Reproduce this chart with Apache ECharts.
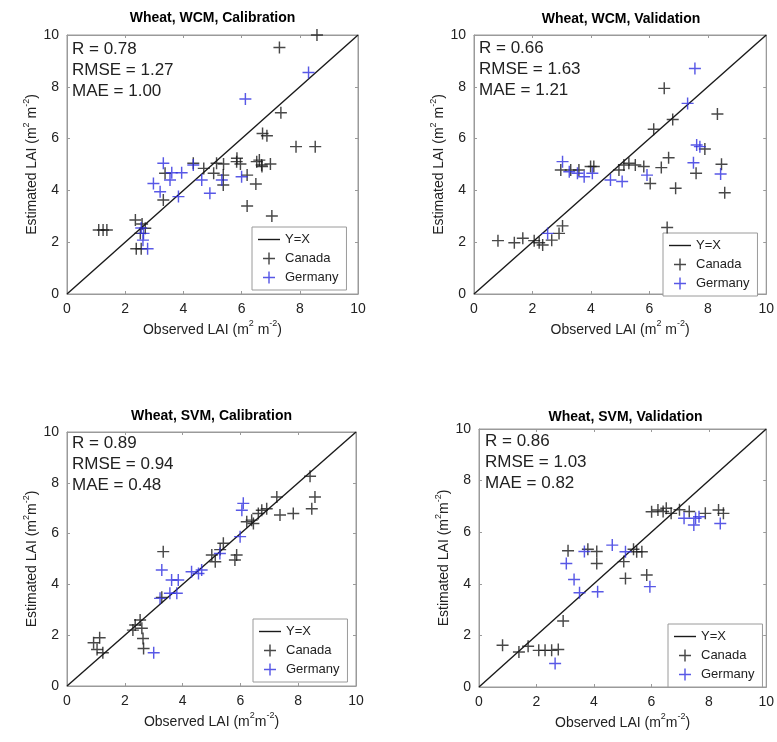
<!DOCTYPE html>
<html>
<head>
<meta charset="utf-8">
<script src="https://cdn.jsdelivr.net/npm/echarts@6/dist/echarts.min.js"></script>
<style>html,body{margin:0;padding:0;background:#fff}#c{width:777px;height:742px}</style>
</head>
<body>
<div id="c"></div>
<script>
// ---------- data ----------
const panelTitles = ['Wheat, WCM, Calibration', 'Wheat, WCM, Validation', 'Wheat, SVM, Calibration', 'Wheat, SVM, Validation'];
const statsR = ['0.78', '0.66', '0.89', '0.86'];
const statsRMSE = ['1.27', '1.63', '0.94', '1.03'];
const statsMAE = ['1.00', '1.21', '0.48', '0.82'];
const tickValues = [0, 2, 4, 6, 8, 10];
const seriesNames = ['Y=X', 'Canada', 'Germany'];
const identityLine = [[0, 0], [10, 10]];

const wcmCalCanada = [[8.59,10.0],[7.30,9.52],[7.35,7.0],[6.72,6.2],[6.87,6.11],[7.87,5.69],[8.53,5.69],[5.84,5.24],[6.61,5.17],[6.70,4.92],[6.99,5.02],[5.96,5.02],[6.19,4.59],[6.49,4.25],[6.19,3.40],[7.04,3.01],[5.38,5.02],[5.14,5.05],[5.04,4.66],[5.37,4.21],[5.37,4.59],[4.34,5.05],[4.70,4.85],[3.37,4.66],[3.31,3.63],[1.09,2.47],[1.24,2.47],[1.37,2.47],[2.35,2.86],[2.58,2.70],[2.69,2.54],[2.52,2.34],[2.38,1.75],[2.55,1.75],[6.52,5.11],[5.83,5.11],[6.69,4.98]];
const wcmCalGermany = [[8.30,8.55],[6.13,7.53],[3.31,5.05],[3.60,4.68],[3.54,4.40],[3.94,4.68],[4.34,4.98],[2.97,4.27],[3.20,3.95],[3.83,3.76],[4.63,4.40],[4.91,3.89],[5.32,4.40],[6.00,4.53],[2.63,2.34],[2.61,2.08],[2.77,1.75],[2.55,2.55]];

const wcmValCanada = [[6.51,7.94],[8.33,6.95],[6.80,6.74],[6.15,6.36],[7.90,5.60],[6.66,5.26],[8.47,5.01],[6.41,4.88],[7.60,4.66],[5.81,4.92],[5.52,4.98],[5.30,5.05],[5.13,4.98],[4.96,4.79],[6.03,4.27],[6.90,4.08],[8.58,3.91],[6.61,2.57],[3.03,2.63],[2.91,2.34],[2.66,2.08],[0.82,2.06],[1.38,1.98],[1.67,2.15],[2.06,2.06],[2.23,1.98],[2.35,1.89],[2.97,4.79],[3.31,4.79],[3.59,4.79],[3.99,4.92],[4.10,4.92]];
const wcmValGermany = [[7.56,8.71],[7.31,7.36],[7.62,5.75],[7.73,5.69],[7.51,5.07],[8.44,4.63],[5.92,4.59],[5.07,4.34],[4.67,4.40],[4.05,4.66],[3.77,4.53],[3.54,4.66],[3.26,4.72],[3.03,5.11],[2.52,2.34]];

const svmCalCanada = [[8.41,8.26],[8.58,7.44],[8.47,6.98],[7.26,7.44],[7.83,6.79],[7.37,6.73],[6.91,6.98],[6.74,6.92],[6.62,6.79],[6.45,6.40],[6.22,6.47],[6.39,6.53],[5.41,5.62],[5.30,5.37],[5.87,5.16],[5.81,4.96],[5.01,5.16],[5.13,4.89],[3.33,5.29],[3.28,3.49],[2.53,2.60],[2.36,2.40],[2.28,2.20],[2.59,2.27],[2.63,1.87],[2.65,1.48],[0.92,1.70],[1.13,1.90],[1.04,1.44],[1.24,1.31]];
const svmCalGermany = [[6.10,7.19],[6.05,6.92],[5.99,5.88],[5.29,5.22],[4.66,4.57],[4.55,4.43],[4.31,4.50],[3.28,4.57],[3.62,4.17],[3.85,4.17],[3.22,3.45],[3.56,3.65],[3.80,3.65],[3.00,1.31]];

const svmValCanada = [[0.82,1.62],[1.39,1.36],[1.71,1.58],[2.08,1.42],[2.30,1.42],[2.53,1.42],[2.76,1.45],[2.93,2.56],[3.10,5.28],[3.79,5.34],[4.10,5.25],[4.10,4.79],[5.04,4.86],[5.10,4.21],[5.84,4.34],[5.38,5.34],[5.49,5.24],[5.67,5.24],[6.01,6.79],[6.23,6.86],[6.52,6.93],[6.69,6.73],[6.41,6.80],[6.98,6.87],[7.32,6.80],[7.88,6.73],[8.34,6.86],[8.51,6.73]];
const svmValGermany = [[4.64,5.50],[5.10,5.24],[3.04,4.79],[3.67,5.25],[3.31,4.17],[3.50,3.65],[4.13,3.69],[5.95,3.89],[2.65,0.91],[7.14,6.54],[7.54,6.54],[7.66,6.60],[7.48,6.28],[8.40,6.34]];

const canadaSets = [wcmCalCanada, wcmValCanada, svmCalCanada, svmValCanada];
const germanySets = [wcmCalGermany, wcmValGermany, svmCalGermany, svmValGermany];
const xNames = ['{b|Observed LAI (m}{s|2}{b| m}{s|-2}{b|)}', '{b|Observed LAI (m}{s|2}{b| m}{s|-2}{b|)}', '{b|Observed LAI (m}{s|2}{b|m}{s|-2}{b|)}', '{b|Observed LAI (m}{s|2}{b|m}{s|-2}{b|)}'];
const yNames = ['{b|Estimated LAI (m}{s|2}{b| m}{s|-2}{b|)}', '{b|Estimated LAI (m}{s|2}{b| m}{s|-2}{b|)}', '{b|Estimated LAI (m}{s|2}{b|m}{s|-2}{b|)}', '{b|Estimated LAI (m}{s|2}{b|m}{s|-2}{b|)}'];

// ---------- layout ----------
const FONT = '"Liberation Sans", Arial, Helvetica, sans-serif';
const grids = [
  {left: 67, top: 35, width: 291, height: 259},
  {left: 474, top: 35, width: 294, height: 259},
  {left: 67, top: 432, width: 289, height: 254},
  {left: 479, top: 429, width: 293, height: 258}
];
const legendPos = [{left: 252, top: 227}, {left: 663, top: 233}, {left: 253, top: 619}, {left: 668, top: 624}];
const statsPos = [{left: 72, top: 39}, {left: 479, top: 38}, {left: 72, top: 433}, {left: 485, top: 431}];
const titleTop = [11, 12, 409, 410];
const PLUS = 'path://M4.4,0H5.6V4.4H10V5.6H5.6V10H4.4V5.6H0V4.4H4.4Z';
const LINE_ICON = 'path://M0,0H22V1.4H0Z';
const BLACK = '#1a1a1a', BLUE = '#2e2ee0', FRAME = '#9a9a9a';

const rich = {
  b: {fontSize: 14, lineHeight: 18, verticalAlign: 'bottom', color: '#222', fontFamily: FONT},
  s: {fontSize: 9, lineHeight: 18, verticalAlign: 'top', color: '#222', fontFamily: FONT}
};

const option = {
  backgroundColor: '#fff',
  animation: false,
  textStyle: {fontFamily: FONT},
  title: [], legend: [], grid: [], xAxis: [], yAxis: [], series: []
};

function baseAxis(i) {
  return {
    gridIndex: i, type: 'value', min: tickValues[0], max: tickValues[tickValues.length - 1], interval: 2,
    axisLine: {show: true, onZero: false, lineStyle: {color: FRAME, width: 1}},
    axisTick: {show: true, inside: true, length: 3, lineStyle: {color: FRAME}},
    axisLabel: {fontSize: 14, color: '#222', fontFamily: FONT},
    splitLine: {show: false},
    nameLocation: 'middle',
    nameTextStyle: {rich: rich}
  };
}

for (let i = 0; i < 4; i++) {
  const g = grids[i];
  option.grid.push({left: g.left, top: g.top, width: g.width, height: g.height, show: true, borderColor: FRAME, borderWidth: 1, backgroundColor: '#fff'});
  option.xAxis.push(Object.assign(baseAxis(i), {position: 'bottom', name: xNames[i], nameGap: 25}));
  option.yAxis.push(Object.assign(baseAxis(i), {position: 'left', name: yNames[i], nameGap: 25}));
}
// mirrored box axes (ticks only) on top and right
for (let i = 0; i < 4; i++) {
  option.xAxis.push(Object.assign(baseAxis(i), {position: 'top', axisLabel: {show: false}}));
  option.yAxis.push(Object.assign(baseAxis(i), {position: 'right', axisLabel: {show: false}}));
}

for (let i = 0; i < 4; i++) {
  const g = grids[i];
  option.title.push({
    text: panelTitles[i], left: g.left + g.width / 2, top: titleTop[i], textAlign: 'center', padding: 0,
    textStyle: {fontSize: 14, fontWeight: 'bold', color: '#000', fontFamily: FONT}
  });
  option.title.push({
    text: 'R = ' + statsR[i] + '\nRMSE = ' + statsRMSE[i] + '\nMAE = ' + statsMAE[i],
    left: statsPos[i].left, top: statsPos[i].top, padding: 0,
    textStyle: {fontSize: 17, fontWeight: 'normal', color: '#222', lineHeight: 21, fontFamily: FONT}
  });
  option.legend.push({
    data: [{name: seriesNames[0], icon: LINE_ICON}, {name: seriesNames[1]}, {name: seriesNames[2]}],
    left: legendPos[i].left, top: legendPos[i].top, orient: 'vertical',
    selectedMode: false, backgroundColor: '#fff', borderColor: FRAME, borderWidth: 1,
    padding: [6, 8, 6, 6], itemGap: 6, itemWidth: 22, itemHeight: 12,
    textStyle: {fontSize: 13, color: '#222', fontFamily: FONT}
  });

  option.series.push({
    name: seriesNames[0], type: 'line', xAxisIndex: i, yAxisIndex: i, data: identityLine,
    symbol: 'none', lineStyle: {color: BLACK, width: 1.4}, itemStyle: {color: BLACK}, z: 3
  });
  option.series.push({
    name: seriesNames[1], type: 'scatter', xAxisIndex: i, yAxisIndex: i, data: canadaSets[i],
    symbol: PLUS, symbolSize: 12, itemStyle: {color: BLACK}, z: 4
  });
  option.series.push({
    name: seriesNames[2], type: 'scatter', xAxisIndex: i, yAxisIndex: i, data: germanySets[i],
    symbol: PLUS, symbolSize: 12, itemStyle: {color: BLUE}, z: 5
  });
}

const chart = echarts.init(document.getElementById('c'), null, {renderer: 'canvas'});
chart.setOption(option);
</script>
</body>
</html>
